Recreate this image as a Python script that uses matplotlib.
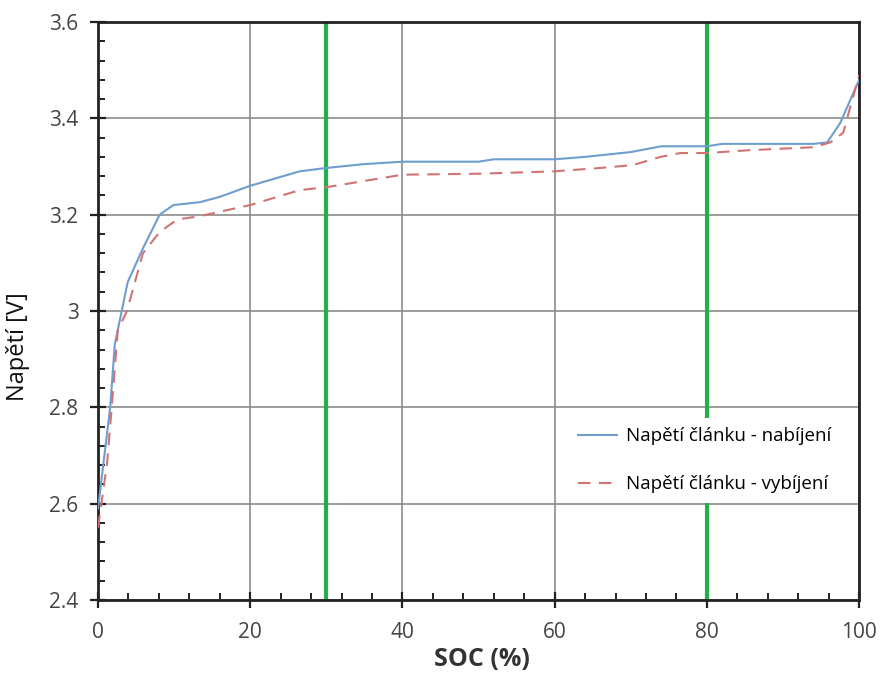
import matplotlib
matplotlib.use("Agg")
import matplotlib.pyplot as plt
from matplotlib.ticker import MultipleLocator, FuncFormatter

# Data
soc_charge = [0, 1.6, 2.2, 3.9, 5.9, 8.1, 9.9, 13.4, 16, 20, 26.5, 30, 35, 40, 50, 52, 60, 64, 70, 74, 80, 82, 94, 95.8, 97.5, 100]
v_charge = [2.59, 2.80, 2.93, 3.06, 3.13, 3.20, 3.22, 3.226, 3.237, 3.26, 3.29, 3.297, 3.305, 3.31, 3.31, 3.315, 3.315, 3.32, 3.33, 3.342, 3.342, 3.347, 3.347, 3.35, 3.39, 3.48]

soc_discharge = [0, 1.2, 1.8, 2.6, 3.8, 5.9, 8.1, 10.4, 13.4, 20, 26.5, 30, 35, 40, 50, 60, 66, 70.3, 73.9, 76.5, 80, 85.7, 94, 96.2, 97.9, 100]
v_discharge = [2.55, 2.685, 2.80, 2.96, 3.00, 3.12, 3.164, 3.19, 3.197, 3.22, 3.251, 3.257, 3.27, 3.283, 3.285, 3.29, 3.297, 3.303, 3.32, 3.328, 3.328, 3.334, 3.34, 3.35, 3.37, 3.49]

marker_soc = [30, 80]
label_charge = "Napětí článku - nabíjení"
label_discharge = "Napětí článku - vybíjení"

plt.rcParams['font.family'] = ['Open Sans', 'DejaVu Sans']

fig = plt.figure(figsize=(8.83, 6.77), dpi=100)
ax = fig.add_axes([0.111, 0.1137, 0.862, 0.8538])

ax.plot(soc_charge, v_charge, color='#6f9dcf', lw=1.5, label=label_charge, zorder=3)
ax.plot(soc_discharge, v_discharge, color='#d27373', lw=1.5, ls=(0, (6, 4)), label=label_discharge, zorder=3)

for s in marker_soc:
    ax.axvline(s, color='#22b04b', lw=3, zorder=2)

ax.set_xlim(0, 100)
ax.set_ylim(2.4, 3.6)
ax.xaxis.set_major_locator(MultipleLocator(20))
ax.xaxis.set_minor_locator(MultipleLocator(4))
ax.yaxis.set_major_locator(MultipleLocator(0.2))
ax.yaxis.set_minor_locator(MultipleLocator(0.04))
ax.yaxis.set_major_formatter(FuncFormatter(lambda v, p: f"{v:.1f}".rstrip('0').rstrip('.')))

ax.grid(which='major', color='#8c8c8c', lw=1.2, zorder=1)
ax.tick_params(which='major', direction='inout', length=12, width=1.6, colors='#222222',
               labelcolor='#444444', labelsize=15)
ax.tick_params(which='minor', direction='in', length=5, width=1.4, colors='#222222')
ax.tick_params(axis='x', which='major', pad=10)
ax.tick_params(axis='y', which='major', pad=8)
for sp in ax.spines.values():
    sp.set_color('#222222')
    sp.set_linewidth(2)

ax.set_xlabel("SOC (%)", fontsize=18, fontweight='bold', color='#333333')
ax.xaxis.set_label_coords(0.505, -0.082)
ax.set_ylabel("Napětí [V]", fontsize=17, color='#111111')
ax.yaxis.set_label_coords(-0.089, 0.438)

leg = ax.legend(loc='upper left', bbox_to_anchor=(0.606, 0.331), frameon=True, fontsize=13.5,
                labelspacing=1.6, handlelength=2.1, handletextpad=0.45, borderpad=0.5)
leg.get_frame().set_facecolor('white')
leg.get_frame().set_edgecolor('none')
leg.get_frame().set_alpha(1)
leg.set_zorder(5)

fig.savefig("out.png", dpi=100, facecolor='white')
